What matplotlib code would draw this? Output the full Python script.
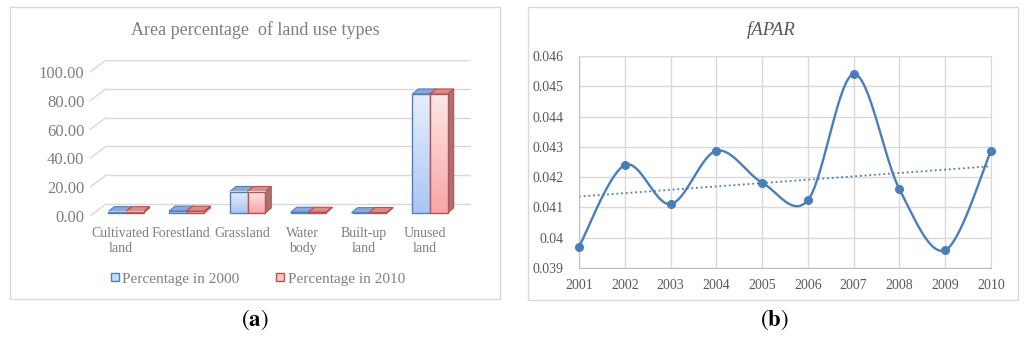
import numpy as np
import matplotlib
matplotlib.use("Agg")
import matplotlib.pyplot as plt
from matplotlib.patches import Polygon, Rectangle, Patch
from matplotlib.colors import LinearSegmentedColormap

# ---------------- data ----------------
categories = ["Cultivated\nland", "Forestland", "Grassland", "Water\nbody", "Built-up\nland", "Unused\nland"]
pct_2000 = [0.9, 1.3, 14.9, 0.5, 0.2, 82.6]
pct_2010 = [0.9, 1.3, 14.9, 0.5, 0.3, 82.6]
pct_ticks = [0, 20, 40, 60, 80, 100]

years = [2001, 2002, 2003, 2004, 2005, 2006, 2007, 2008, 2009, 2010]
fapar = [0.0397, 0.0424, 0.04111, 0.04287, 0.04182, 0.04124, 0.0454, 0.0416, 0.03959, 0.04287]
fapar_ticks = [0.039, 0.04, 0.041, 0.042, 0.043, 0.044, 0.045, 0.046]
fapar_ticklabels = ["0.039", "0.04", "0.041", "0.042", "0.043", "0.044", "0.045", "0.046"]

plt.rcParams['font.family'] = ['Liberation Serif', 'DejaVu Serif']
plt.rcParams['mathtext.fontset'] = 'stix'

W, H = 1024, 339
fig = plt.figure(figsize=(W / 100, H / 100), dpi=100)


def fx(x):
    return x / W


def fy(y):
    return 1 - y / H


def axrect(x0, y0, x1, y1):
    return [fx(x0), fy(y1), fx(x1) - fx(x0), fy(y0) - fy(y1)]


# panel frames
for (x0, y0, x1, y1) in [(10, 7, 500, 299), (528, 7, 1018, 300)]:
    fig.patches.append(Rectangle((fx(x0), fy(y1)), fx(x1) - fx(x0), fy(y0) - fy(y1),
                                 transform=fig.transFigure, fill=False,
                                 edgecolor='#d9d9d9', lw=1.0))

# ---------------- panel (a) ----------------
GRAY = '#7f7f7f'
axA = fig.add_axes(axrect(90, 60, 471, 216))
DX, DY = 0.264, 8.3      # back-wall offset (category units, value units)
fx0, fy0 = 0.09, 2.1     # bar front-face offset
ddx, ddy = 0.10, 3.5     # bar depth
bw = 0.29

# gridlines (back wall) with left diagonal
for v in pct_ticks:
    axA.plot([-0.5 + DX, 5.5 + DX], [v + DY, v + DY], color='#d9d9d9', lw=1.0, zorder=1,
             solid_capstyle='butt')
    axA.plot([-0.5, -0.5 + DX], [v, v + DY], color='#d9d9d9', lw=1.0, zorder=1)

cm_blue = LinearSegmentedColormap.from_list('b', ['#abc6f4', '#e6eefc'])
cm_red = LinearSegmentedColormap.from_list('r', ['#f6a7a6', '#fde7e7'])
grad = np.linspace(0, 1, 64).reshape(-1, 1)

series = [
    (pct_2000, -1, cm_blue, '#4f81bd', '#8ea7d3', '#6f8cbf'),
    (pct_2010, 0, cm_red, '#c0504d', '#d68e8c', '#a47472'),
]
z = 3
for i in range(len(categories)):
    for vals, side, cmap, ec, topc, sidec in series:
        v = vals[i]
        x0 = i + fx0 + side * bw
        x1 = x0 + bw
        b0 = fy0
        t0 = fy0 + v
        # top face
        axA.add_patch(Polygon([[x0, t0], [x1, t0], [x1 + ddx, t0 + ddy], [x0 + ddx, t0 + ddy]],
                              closed=True, facecolor=topc, edgecolor=ec, lw=0.8, zorder=z))
        # side face
        axA.add_patch(Polygon([[x1, b0], [x1 + ddx, b0 + ddy], [x1 + ddx, t0 + ddy], [x1, t0]],
                              closed=True, facecolor=sidec, edgecolor=ec, lw=0.8, zorder=z))
        # front face gradient
        if v > 0.5:
            axA.imshow(grad, extent=[x0, x1, b0, t0], origin='lower', cmap=cmap,
                       aspect='auto', zorder=z + 0.1, interpolation='bilinear')
        axA.add_patch(Rectangle((x0, b0), bw, v, fill=False, edgecolor=ec, lw=1.0, zorder=z + 0.2))
        z += 1

axA.set_xlim(-0.5, 5.5 + DX)
axA.set_ylim(0, 100 + DY)
axA.set_aspect('auto')
for s in axA.spines.values():
    s.set_visible(False)
axA.set_yticks(pct_ticks)
axA.set_yticklabels(["%.2f" % t for t in pct_ticks], fontsize=12, color=GRAY)
axA.set_xticks(range(len(categories)))
axA.set_xticklabels(categories, fontsize=10, color=GRAY, linespacing=1.15)
axA.tick_params(axis='both', length=0)
axA.tick_params(axis='y', pad=4)
axA.tick_params(axis='x', pad=8)
axA.patch.set_visible(False)

fig.text(fx(255), fy(30), "Area percentage  of land use types", ha='center', va='center',
         fontsize=13, color=GRAY)

handles = [Patch(facecolor='#c9dbf8', edgecolor='#4f81bd', lw=1.0),
           Patch(facecolor='#fbc6c6', edgecolor='#c0504d', lw=1.0)]
fig.legend(handles, ["Percentage in 2000", "Percentage in 2010"], loc='center',
           bbox_to_anchor=(fx(258), fy(279)), ncol=2, frameon=False, fontsize=11,
           labelcolor=GRAY, handlelength=0.5, handleheight=0.45, handletextpad=0.25,
           columnspacing=2.4, borderaxespad=0)

fig.text(fx(255), fy(320), r"$(\mathbf{a})$", ha='center', va='center', fontsize=16.5,
         color='black')

# ---------------- panel (b) ----------------
BLUE = '#4a7ebb'
axB = fig.add_axes(axrect(579, 56, 991, 268))

# Excel-style smoothed line (Bezier with Catmull-Rom control points)
xs = np.array(years, dtype=float)
ys = np.array(fapar, dtype=float)
n = len(xs)
cx, cy = [], []
t = np.linspace(0, 1, 40)
for k in range(n - 1):
    p0 = np.array([xs[max(k - 1, 0)], ys[max(k - 1, 0)]])
    p1 = np.array([xs[k], ys[k]])
    p2 = np.array([xs[k + 1], ys[k + 1]])
    p3 = np.array([xs[min(k + 2, n - 1)], ys[min(k + 2, n - 1)]])
    c1 = p1 + (p2 - p0) / 6.0
    c2 = p2 - (p3 - p1) / 6.0
    bx = ((1 - t) ** 3) * p1[0] + 3 * ((1 - t) ** 2) * t * c1[0] + 3 * (1 - t) * t ** 2 * c2[0] + t ** 3 * p2[0]
    by = ((1 - t) ** 3) * p1[1] + 3 * ((1 - t) ** 2) * t * c1[1] + 3 * (1 - t) * t ** 2 * c2[1] + t ** 3 * p2[1]
    cx.extend(bx)
    cy.extend(by)
axB.plot(cx, cy, color=BLUE, lw=1.7, zorder=3, clip_on=False)
axB.plot(years, fapar, 'o', color=BLUE, ms=5.5, zorder=4, clip_on=False)

# linear trend
coef = np.polyfit(xs, ys, 1)
axB.plot([xs[0], xs[-1]], np.polyval(coef, [xs[0], xs[-1]]), color=BLUE, lw=1.3,
         linestyle=(0, (1, 1.6)), zorder=2)

axB.set_xlim(2001, 2010)
axB.set_ylim(0.039, 0.046)
axB.set_xticks(years)
axB.set_xticklabels([str(y) for y in years], fontsize=10, color='#595959')
axB.set_yticks(fapar_ticks)
axB.set_yticklabels(fapar_ticklabels, fontsize=10, color='#595959')
axB.grid(True, color='#d9d9d9', lw=1.0)
axB.set_axisbelow(True)
axB.tick_params(axis='both', length=0)
axB.tick_params(axis='x', pad=8)
axB.tick_params(axis='y', pad=11)
for s in axB.spines.values():
    s.set_color('#d9d9d9')
axB.spines['bottom'].set_color('#bfbfbf')
axB.spines['left'].set_color('#bfbfbf')

fig.text(fx(771), fy(30), "fAPAR", ha='center', va='center', fontsize=13.5,
         style='italic', color='#595959')
fig.text(fx(774), fy(320), r"$(\mathbf{b})$", ha='center', va='center', fontsize=16.5,
         color='black')

fig.savefig("out.png", dpi=100)
